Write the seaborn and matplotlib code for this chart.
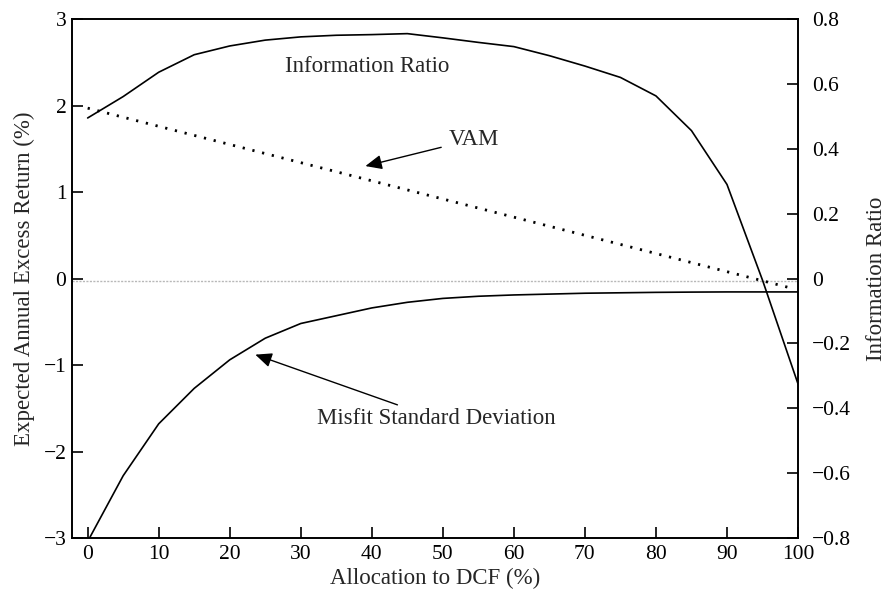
import matplotlib
matplotlib.use("Agg")
import matplotlib.pyplot as plt
import seaborn as sns
import pandas as pd

# ---- data ----
alloc = [0, 5, 10, 15, 20, 25, 30, 35, 40, 45, 50, 55, 60, 65, 70, 75, 80, 85, 90, 95, 100]
info_ratio = [0.495, 0.561, 0.636, 0.690, 0.717, 0.735, 0.745, 0.750, 0.752, 0.755, 0.742,
              0.728, 0.715, 0.687, 0.655, 0.620, 0.563, 0.456, 0.290, -0.005, -0.325]
misfit = [-3.04, -2.28, -1.68, -1.27, -0.94, -0.69, -0.52, -0.43, -0.34, -0.275, -0.23,
          -0.205, -0.19, -0.18, -0.17, -0.165, -0.16, -0.157, -0.155, -0.155, -0.155]
vam_x = [0, 99]
vam = [1.97, -0.11]

left_ticks = [-3, -2, -1, 0, 1, 2, 3]
right_ticks = [-0.8, -0.6, -0.4, -0.2, 0, 0.2, 0.4, 0.6, 0.8]
right_labels = ["\u22120.8", "\u22120.6", "\u22120.4", "\u22120.2", "0", "0.2", "0.4", "0.6", "0.8"]
x_ticks = [0, 10, 20, 30, 40, 50, 60, 70, 80, 90, 100]

sns.set_style("ticks")
plt.rcParams['font.family'] = ['Liberation Serif', 'DejaVu Serif']
plt.rcParams['axes.unicode_minus'] = True
FS = 16.5
TFS = 15.5

df_ir = pd.DataFrame({"x": alloc, "y": info_ratio})
df_mis = pd.DataFrame({"x": alloc, "y": misfit})
df_vam = pd.DataFrame({"x": vam_x, "y": vam})

fig = plt.figure(figsize=(8.86, 5.95), dpi=100)
ax = fig.add_axes([0.0813, 0.0958, 0.8194, 0.8722])
ax2 = ax.twinx()

# zero reference line
ax.axhline(-0.03, color="#b8b8b8", lw=1.0, ls=(0, (1.5, 1)), zorder=1)

sns.lineplot(data=df_mis, x="x", y="y", ax=ax, color="black", lw=1.2, zorder=3)
sns.lineplot(data=df_vam, x="x", y="y", ax=ax, color="black", lw=2.0,
             linestyle=(0, (0.8, 2.8)), zorder=3)
sns.lineplot(data=df_ir, x="x", y="y", ax=ax2, color="black", lw=1.2, zorder=3)

ax.set_xlim(-2.2, 100)
ax.set_ylim(-3, 3)
ax2.set_ylim(-0.8, 0.8)
ax.set_xticks(x_ticks)
ax.set_yticks(left_ticks)
ax.set_yticklabels([str(t).replace("-", "\u2212") for t in left_ticks])
ax2.set_yticks(right_ticks)
ax2.set_yticklabels(right_labels)

for a in (ax, ax2):
    a.tick_params(direction="in", length=8, width=1.2, labelsize=TFS, colors="black")
    for s in a.spines.values():
        s.set_linewidth(1.2)
        s.set_color("black")
ax.tick_params(axis="x", pad=5)
ax.tick_params(axis="y", pad=4)
ax2.tick_params(axis="y", pad=10)

ax.set_xlabel("Allocation to DCF (%)", fontsize=FS, labelpad=3)
ax.set_ylabel("Expected Annual Excess Return (%)", fontsize=FS, labelpad=6)
ax2.set_ylabel("Information Ratio", fontsize=FS, labelpad=11)

# annotations
ax.text(39.3, 2.45, "Information Ratio", fontsize=FS, ha="center", va="center")
ax.annotate("VAM", xy=(39.1, 1.30), xytext=(50.8, 1.61), fontsize=FS,
            ha="left", va="center",
            arrowprops=dict(arrowstyle="-|>,head_length=0.5,head_width=0.22",
                            color="black", lw=1.0,
                            mutation_scale=20, shrinkA=3, shrinkB=0))
ax.annotate("Misfit Standard Deviation", xy=(23.6, -0.88), xytext=(32.3, -1.62),
            fontsize=FS, ha="left", va="center",
            arrowprops=dict(arrowstyle="-|>,head_length=0.5,head_width=0.22",
                            color="black", lw=1.0,
                            mutation_scale=20, shrinkA=0, shrinkB=0))

fig.savefig("out.png", dpi=100)
